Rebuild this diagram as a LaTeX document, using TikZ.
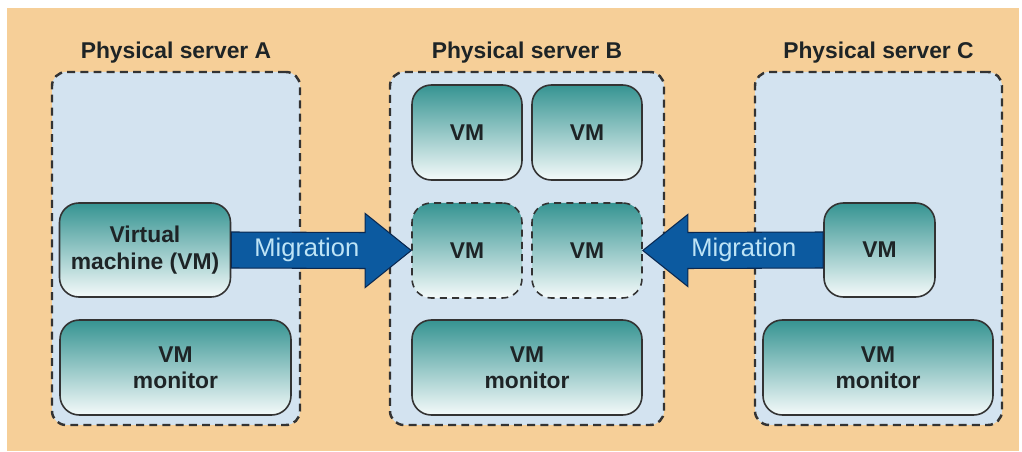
\documentclass[tikz,border=0pt]{standalone}
\usepackage{fontspec}
\setmainfont{Liberation Sans}
\usetikzlibrary{positioning,calc}
\definecolor{sandbg}{RGB}{246,207,152}
\definecolor{srvblue}{RGB}{211,227,240}
\definecolor{vmteal}{RGB}{54,148,146}
\definecolor{vmwhite}{RGB}{244,250,250}
\definecolor{inktext}{RGB}{30,36,38}
\definecolor{migblue}{RGB}{12,90,160}
\definecolor{migdark}{RGB}{10,40,80}
\definecolor{miglight}{RGB}{190,228,246}
\newlength\px
\setlength\px{0.02cm}
\tikzset{
        server/.style={draw=black!80, line width=1.4pt, dash pattern=on 4.5pt off 3pt, rounded corners=8pt, fill=srvblue},
        title/.style={text=inktext, font=\bfseries\fontsize{13}{16}\selectfont, anchor=base},
        vm/.style={draw=black!80, line width=0.9pt, rounded corners=11pt, top color=vmteal, bottom color=vmwhite,
          text=inktext, font=\bfseries\fontsize{13}{15}\selectfont, align=center, inner sep=0pt},
        vmghost/.style={vm, dash pattern=on 4pt off 3pt},
        migr/.style={fill=migblue, draw=migdark, line width=0.6pt, line join=miter},
        migtext/.style={text=miglight, font=\fontsize{14.5}{16}\selectfont}
          }

\begin{document}
\begin{tikzpicture}[x=1\px, y=-1\px]
        \fill[white] (0,0) rectangle (1022,452);
        \fill[sandbg] (7,8) rectangle (1019,451);

        % the three hosts
        \node[server, minimum width=248\px, minimum height=353\px] (srvA) at (176,248.5) {};
        \node[server, minimum width=274\px, minimum height=353\px] (srvB) at (527,248.5) {};
        \node[server, minimum width=247\px, minimum height=353\px] (srvC) at (878.5,248.5) {};
        \node[title] (titA) at ([yshift=12\px]srvA.north) {Physical server A};
        \node[title] (titB) at ([yshift=12\px]srvB.north) {Physical server B};
        \node[title] (titC) at ([yshift=12\px]srvC.north) {Physical server C};

        % guests and monitors
        \node[vm, minimum width=171\px, minimum height=94\px] (avm) at (145,250) {Virtual\\machine (VM)};
        \node[vm, minimum width=231\px, minimum height=95\px] (amon) at (175.5,367.5) {VM\\monitor};

        \node[vm, minimum width=110\px, minimum height=95\px] (bvm1) at (467,132.5) {VM};
        \node[vm, minimum width=110\px, minimum height=95\px] (bvm2) at (587,132.5) {VM};
        \node[vmghost, minimum width=110\px, minimum height=95\px] (bvm3) at (467,250.5) {VM};
        \node[vmghost, minimum width=110\px, minimum height=95\px] (bvm4) at (587,250.5) {VM};
        \node[vm, minimum width=230\px, minimum height=95\px] (bmon) at (527,367.5) {VM\\monitor};

        \node[vm, minimum width=111\px, minimum height=94\px] (cvm) at (879.5,250) {VM};
        \node[vm, minimum width=230\px, minimum height=95\px] (cmon) at (878,367.5) {VM\\monitor};

        % migration arrows
        \coordinate (tipL) at (bvm3.west);
        \coordinate (tipR) at (bvm4.east);
        \draw[migr] ($(avm.east)+(0,-18)$) -- ($(tipL)+(-46,-18)$) -- ($(tipL)+(-46,-37)$) -- (tipL)
          -- ($(tipL)+(-46,37)$) -- ($(tipL)+(-46,18)$) -- ($(avm.east)+(0,18)$) -- cycle;
        \draw[migr] ($(cvm.west)+(0,-18)$) -- ($(tipR)+(45,-18)$) -- ($(tipR)+(45,-36)$) -- (tipR)
          -- ($(tipR)+(45,36)$) -- ($(tipR)+(45,18)$) -- ($(cvm.west)+(0,18)$) -- cycle;
        \path (avm.east) -- (tipL) node[pos=.42, migtext] (migL) {Migration};
        \path (cvm.west) -- (tipR) node[pos=.44, migtext] (migR) {Migration};
\end{tikzpicture}
\end{document}
